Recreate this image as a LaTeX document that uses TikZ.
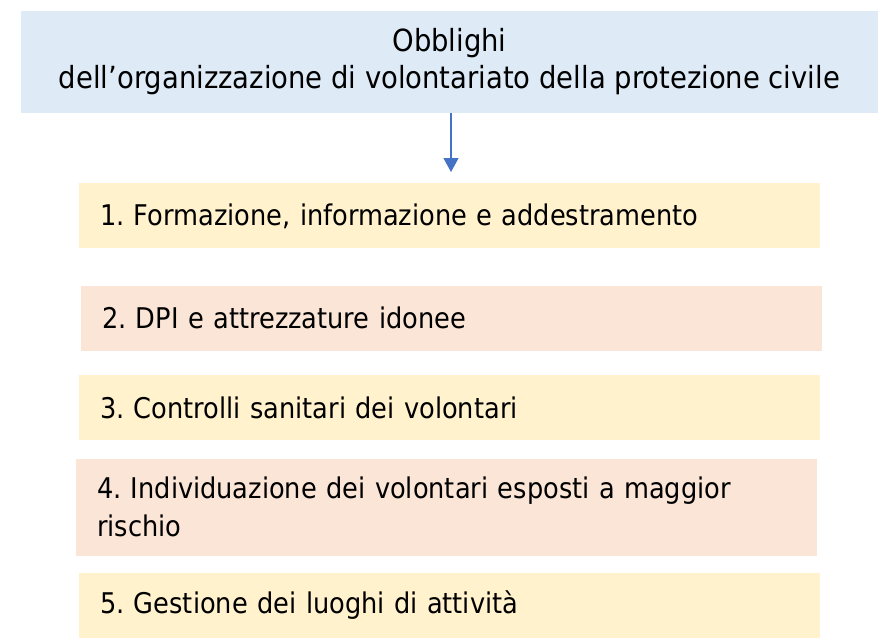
\documentclass[tikz,border=0pt]{standalone}
\usepackage{fontspec}
\setmainfont{DejaVu Sans Condensed}
\usetikzlibrary{positioning,arrows.meta}
\definecolor{titlebg}{HTML}{DEEBF7}
\definecolor{yel}{HTML}{FFF2CC}
\definecolor{peach}{HTML}{FBE5D6}
\definecolor{arrowblue}{HTML}{4472C4}
\frenchspacing
\begin{document}
\begin{tikzpicture}
[x=1pt,y=-1pt,font=\fontsize{28.5}{38}\selectfont,
  box/.style={minimum width=741pt,minimum height=65pt,text width=699pt,
    inner xsep=21pt,inner ysep=0pt,align=left},
  yb/.style={box,fill=yel}, pb/.style={box,fill=peach}]
\useasboundingbox (0,0) rectangle (888,643);
\node[fill=titlebg,minimum width=857pt,minimum height=102pt,align=center,
  inner sep=0pt,font=\fontsize{30.5}{37}\selectfont](o) at (449.5,62){Obblighi\\dell’organizzazione di
  volontariato della protezione civile};
\node[yb,below=70pt of o](p1){1. Formazione, informazione e addestramento};
\node[pb,below=37pt of p1,xshift=2pt](p2){2. DPI e attrezzature idonee};
\node[yb,below=24pt of p2,xshift=-2pt](p3){3. Controlli sanitari dei volontari};
\node[pb,below=18pt of p3,xshift=-3pt,minimum height=97pt](p4){4.
  Individuazione dei volontari esposti a maggior\\rischio};
\node[yb,below=17pt of p4,xshift=3pt](p5){5. Gestione dei luoghi di attività};
\coordinate (tip) at (451,172);
\draw[arrowblue,line width=1.2pt,-{Triangle[width=15pt,length=14pt]}]
  (o.south -| tip) -- (tip);
\end{tikzpicture}
\end{document}
